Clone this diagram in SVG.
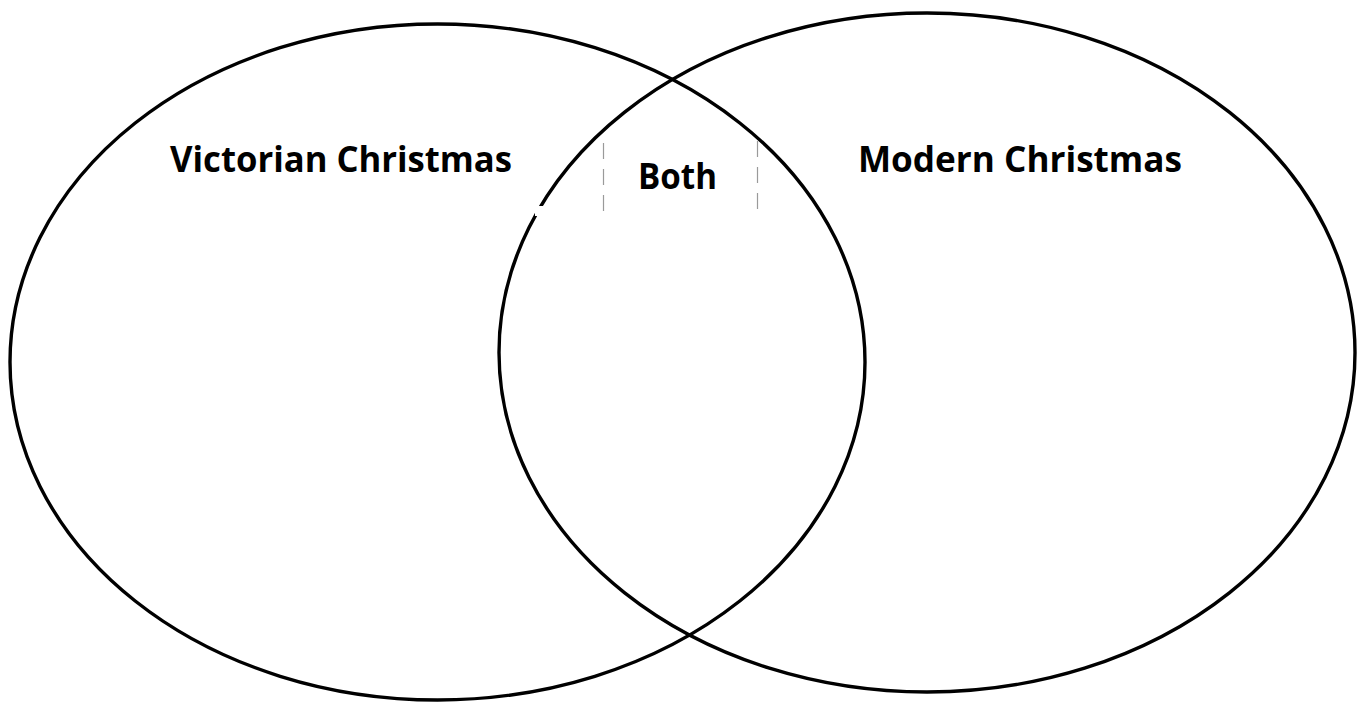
<svg xmlns="http://www.w3.org/2000/svg" width="1358" height="702" viewBox="0 0 1358 702">
  <style>
    .set { fill: none; stroke: #000; stroke-width: 3.4; }
    .lbl { font-family: "Open Sans", "Liberation Sans", sans-serif; font-weight: bold; font-size: 36px; fill: #000; }
    .dash { stroke: #9a9a9a; stroke-width: 1.2; fill: none; stroke-dasharray: 16 10; }
  </style>
  <rect width="1358" height="702" fill="#fff"/>
  <g id="set-victorian">
    <ellipse class="set" cx="437.5" cy="362" rx="427.5" ry="338"/>
  </g>
  <g id="set-modern">
    <ellipse class="set" cx="927" cy="352.5" rx="428" ry="339.5"/>
  </g>
  <g id="both-box">
    <rect x="535" y="206" width="12" height="10" fill="#fff"/>
    <line class="dash" x1="603.5" y1="143" x2="603.5" y2="213"/>
    <line class="dash" x1="757.5" y1="141" x2="757.5" y2="210"/>
  </g>
  <g id="labels">
    <text class="lbl" x="170" y="172" textLength="342" lengthAdjust="spacingAndGlyphs">Victorian Christmas</text>
    <text class="lbl" x="858" y="172" textLength="324" lengthAdjust="spacingAndGlyphs">Modern Christmas</text>
    <text class="lbl" x="638" y="189" textLength="79" lengthAdjust="spacingAndGlyphs">Both</text>
  </g>
</svg>
